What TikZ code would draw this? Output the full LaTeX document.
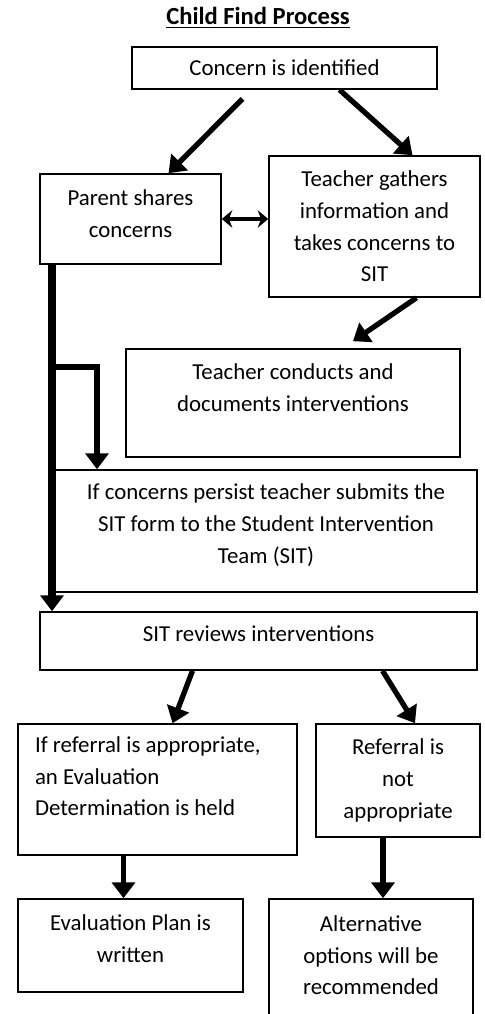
\documentclass[tikz,border=0pt]{standalone}
\usepackage{fontspec}
\setmainfont{Carlito}
\usetikzlibrary{arrows.meta,calc}
\tikzset{
	box/.style={draw, line width=0.9pt, align=center, inner sep=0pt, font=\fontsize{13}{18}\selectfont},
	bigarrow/.style={line width=3pt, -{Triangle[length=9pt, width=13pt]}},
	twoway/.style={line width=2pt, {Stealth[length=6pt, width=10pt]}-{Stealth[length=6pt, width=10pt]}},
}
\begin{document}
\begin{tikzpicture}[x=0.02cm, y=-0.02cm]
	\useasboundingbox (0,0) rectangle (484,1014);
	\clip (0,0) rectangle (484,1014);
	
	\draw (258,18) node[font=\fontsize{14}{17}\selectfont\bfseries] (title) {\underline{Child Find Process}};
	\draw (284.5,68) node[box, minimum width=6.10cm, minimum height=0.84cm] (concern) {Concern is identified};
	\draw (130.5,219) node[box, minimum width=3.62cm, minimum height=1.80cm] (parent) {Parent shares\\concerns\\[-17.4pt]\strut};
	\draw (374.5,226.5) node[box, minimum width=4.22cm, minimum height=2.82cm] (teacher) {Teacher gathers\\information and\\takes concerns to\\SIT};
	\draw (293,403) node[box, minimum width=6.68cm, minimum height=2.16cm] (conducts) {Teacher conducts and\\documents interventions\\[-5.5pt]\strut};
	\draw (266,531) node[box, minimum width=8.44cm, minimum height=2.44cm] (persist) {If concerns persist teacher submits the\\SIT form to the Student Intervention\\Team (SIT)\\[-15pt]\strut};
	\draw (258.5,641) node[box, minimum width=8.74cm, minimum height=1.16cm] (sitrev) {SIT reviews interventions\\[-15.4pt]\strut};
	\draw (157.5,789.5) node[box, align=flush left, text width=4.9cm, minimum width=5.58cm, minimum height=2.62cm] (refer) {If referral is appropriate,\\an Evaluation\\Determination is held\\[-8.5pt]\strut};
	\draw (398,780.5) node[box, minimum width=3.28cm, minimum height=2.26cm] (notapp) {Referral is\\not\\appropriate};
	\draw (130.5,945.5) node[box, minimum width=4.50cm, minimum height=1.86cm] (plan) {Evaluation Plan is\\written\\[-15.4pt]\strut};
	\draw (371,971) node[box, minimum width=4.08cm, minimum height=2.88cm] (altern) {Alternative\\options will be\\recommended\\[-5.5pt]\strut};
	
	\coordinate (split) at (52,367);
	\coordinate (turn) at (97,367);
	
	\draw[bigarrow] ($(concern.south)+(-42,9)$) -- ($(parent.north)+(38,0)$);
	\draw[bigarrow] ($(concern.south)+(55,0)$) -- ($(teacher.north)+(38,0)$);
	\draw[twoway] (parent.east) -- (parent.east -| teacher.west);
	\draw[bigarrow] ($(teacher.south)+(42,0)$) -- ($(conducts.north)+(60,-7)$);
	\draw[bigarrow, line width=4pt] (split |- parent.south) -- (split |- sitrev.north);
	\draw[bigarrow] (split) -- (turn) -- (turn |- persist.north);
	\draw[bigarrow] ($(sitrev.south)+(-66,0)$) -- ($(refer.north)+(15,0)$);
	\draw[bigarrow] ($(sitrev.south)+(124,0)$) -- ($(notapp.north)+(17,0)$);
	\draw[bigarrow] ($(refer.south)+(-34,0)$) -- ($(plan.north)+(-7,0)$);
	\draw[bigarrow] ($(notapp.south)+(-15,0)$) -- ($(altern.north)+(12,0)$);
\end{tikzpicture}
\end{document}
